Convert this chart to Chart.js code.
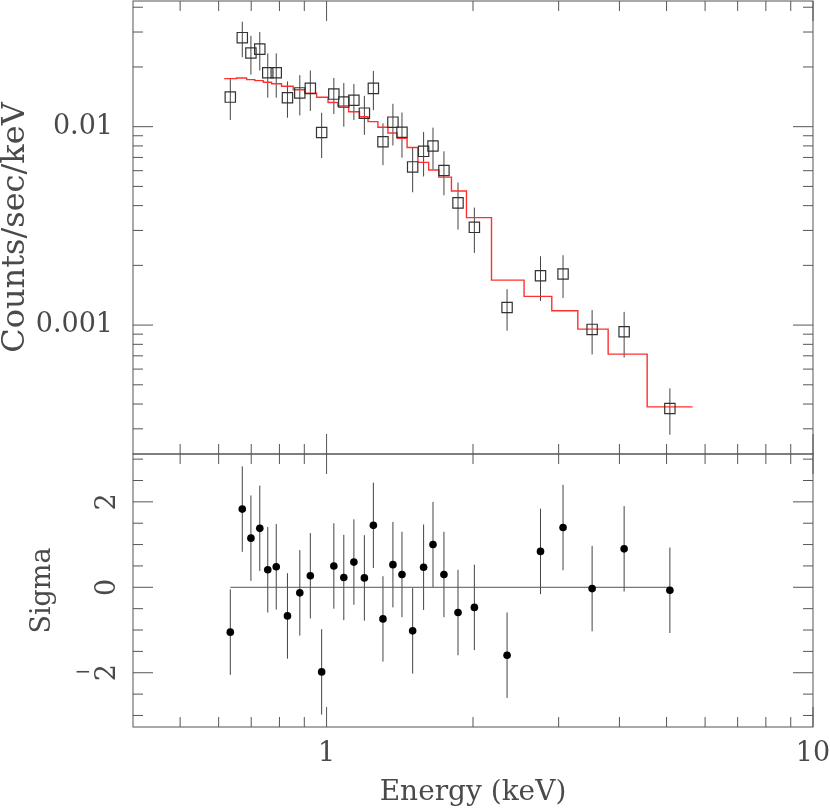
<!DOCTYPE html>
<html>
<head>
<meta charset="utf-8">
<script src="https://cdn.jsdelivr.net/npm/chart.js@4"></script>
<style>
  html, body { margin: 0; padding: 0; background: #fff; }
  #wrap { position: relative; width: 830px; height: 810px; }
  #wrap canvas { position: absolute; left: 0; top: 0; }
</style>
</head>
<body>
<div id="wrap">
  <canvas id="spectrum" width="830" height="810"></canvas>
  <canvas id="residuals" width="830" height="810"></canvas>
</div>
<script>
// Datos (keV, cuentas/s/keV, sigma)
const energy = [0.634, 0.671, 0.699, 0.729, 0.757, 0.788, 0.831, 0.881, 0.926, 0.977,
                1.035, 1.085, 1.138, 1.196, 1.248, 1.306, 1.369, 1.429, 1.503, 1.583,
                1.655, 1.743, 1.863, 2.013, 2.350, 2.753, 3.063, 3.515, 4.090, 5.079];
const counts = [0.0141, 0.0281, 0.0235, 0.0246, 0.0187, 0.0187, 0.0140, 0.0148, 0.0156, 0.00935,
                0.0146, 0.0133, 0.0136, 0.0117, 0.0156, 0.00840, 0.01054, 0.00938, 0.00627, 0.00751,
                0.00799, 0.00601, 0.00413, 0.00311, 0.001227, 0.001773, 0.00181, 0.000951, 0.000926, 0.00038];
const countsErr = [0.0033, 0.0057, 0.0052, 0.0054, 0.0047, 0.0047, 0.0029, 0.0034, 0.0036, 0.0024,
                   0.0030, 0.0033, 0.0028, 0.0026, 0.0035, 0.0020, 0.0025, 0.0024, 0.0016, 0.0019,
                   0.0019, 0.0015, 0.0011, 0.0008, 0.00029, 0.00045, 0.00044, 0.00024, 0.00024, 0.0001];
// bordes de los canales del modelo (31) y valor del modelo en cada canal (30)
const binEdges = [0.616, 0.653, 0.685, 0.712, 0.741, 0.771, 0.808, 0.854, 0.902, 0.954,
                  1.007, 1.055, 1.110, 1.169, 1.217, 1.275, 1.337, 1.397, 1.464, 1.541,
                  1.621, 1.702, 1.806, 1.939, 2.183, 2.547, 2.904, 3.285, 3.792, 4.561, 5.655];
const model = [0.01747, 0.01760, 0.01726, 0.01706, 0.01675, 0.01647, 0.01598, 0.01536, 0.01474, 0.01407,
               0.01324, 0.01272, 0.01190, 0.01123, 0.01060, 0.00993, 0.00929, 0.00875, 0.00785, 0.00661,
               0.00605, 0.00557, 0.00474, 0.00348, 0.001686, 0.001395, 0.001180, 0.000954, 0.000714, 0.000387];
const sigma = [-1.05, 1.83, 1.15, 1.38, 0.41, 0.48, -0.67, -0.13, 0.27, -1.98,
               0.50, 0.23, 0.59, 0.22, 1.45, -0.74, 0.53, 0.30, -1.02, 0.47,
               1.00, 0.30, -0.59, -0.47, -1.59, 0.84, 1.40, -0.03, 0.90, -0.07];
const sigmaErr = 1;

// ejes y marcas
const xMajor = [1, 10];
const xMinor = [0.5, 0.6, 0.7, 0.8, 0.9, 2, 3, 4, 5, 6, 7, 8, 9];
const xLabels = ['1', '10'];
const countsMajor = [0.001, 0.01];
const countsMinor = [3e-4, 4e-4, 5e-4, 6e-4, 7e-4, 8e-4, 9e-4,
                     0.002, 0.003, 0.004, 0.005, 0.006, 0.007, 0.008, 0.009, 0.02, 0.03, 0.04];
const countsLabels = ['0.001', '0.01'];
const sigmaMajor = [-2, 0, 2];
const sigmaMinor = [-3, -2.5, -1.5, -1, -0.5, 0.5, 1, 1.5, 2.5, 3];
const sigmaLabels = ['−2', '0', '2'];

const SERIF = '"DejaVu Serif", "Liberation Serif", serif';
const TEXT = '#4a4a4a';
const FRAME = '#555';

// Marco con marcas hacia dentro en los cuatro lados (estilo PGPLOT)
const frameTicks = {
    id: 'frameTicks',
    afterDatasetsDraw(chart, args, opts) {
        const { ctx, chartArea: a, scales: { x, y } } = chart;
        ctx.save();
        ctx.strokeStyle = FRAME;
        ctx.lineWidth = 1;
        ctx.strokeRect(a.left, a.top, a.right - a.left, a.bottom - a.top);
        ctx.beginPath();
        const onX = (vals, len) => vals.forEach(v => {
            const px = x.getPixelForValue(v);
            ctx.moveTo(px, a.top); ctx.lineTo(px, a.top + len);
            ctx.moveTo(px, a.bottom); ctx.lineTo(px, a.bottom - len);
        });
        const onY = (vals, len) => vals.forEach(v => {
            const py = y.getPixelForValue(v);
            ctx.moveTo(a.left, py); ctx.lineTo(a.left + len, py);
            ctx.moveTo(a.right, py); ctx.lineTo(a.right - len, py);
        });
        onX(opts.xMajor, 20);
        onX(opts.xMinor, 10);
        onY(opts.yMajor, 20);
        onY(opts.yMinor, 10);
        ctx.stroke();
        ctx.restore();
    }
};

// Barras de error verticales
const errorBars = {
    id: 'errorBars',
    beforeDatasetsDraw(chart) {
        const { ctx, scales: { x, y } } = chart;
        ctx.save();
        ctx.strokeStyle = '#444';
        ctx.lineWidth = 1;
        chart.data.datasets.forEach(ds => {
            if (ds.errors === undefined) return;
            ds.data.forEach((p, i) => {
                const e = Array.isArray(ds.errors) ? ds.errors[i] : ds.errors;
                const px = x.getPixelForValue(p.x);
                ctx.beginPath();
                ctx.moveTo(px, y.getPixelForValue(p.y - e));
                ctx.lineTo(px, y.getPixelForValue(p.y + e));
                ctx.stroke();
            });
        });
        ctx.restore();
    }
};

// Etiquetas giradas del eje sigma
const rotatedTicks = {
    id: 'rotatedTicks',
    afterDraw(chart) {
        const { ctx, scales: { y } } = chart;
        ctx.save();
        ctx.fillStyle = TEXT;
        ctx.font = '27px ' + SERIF;
        ctx.textAlign = 'center';
        ctx.textBaseline = 'middle';
        sigmaMajor.forEach((v, i) => {
            const py = y.getPixelForValue(v);
            let txt = sigmaLabels[i];
            if (txt.startsWith('−')) {
                ctx.save();
                ctx.font = '20px ' + SERIF;
                ctx.fillText('−', 83, py);  // el signo queda horizontal
                ctx.restore();
                txt = txt.slice(1);
            }
            ctx.save();
            ctx.translate(108, py);
            ctx.rotate(-Math.PI / 2);
            ctx.fillText(txt, 0, 0);
            ctx.restore();
        });
        ctx.restore();
    }
};

const noGrid = { display: false, drawTicks: false };

new Chart(document.getElementById('spectrum'), {
    type: 'scatter',
    data: {
        datasets: [
            {
                label: 'datos',
                data: energy.map((e, i) => ({ x: e, y: counts[i] })),
                errors: countsErr,
                pointStyle: 'rect',
                pointRadius: 7.3,
                pointBorderColor: '#333',
                pointBackgroundColor: 'rgba(0,0,0,0)',
                pointBorderWidth: 1.2,
            },
            {
                label: 'modelo',
                type: 'line',
                // cada canal va de su borde inferior al superior; el ultimo borde repite el ultimo valor
                data: binEdges.map((e, i) => ({ x: e, y: model[Math.min(i, model.length - 1)] })),
                stepped: 'before',
                borderColor: '#ff3030',
                borderWidth: 1.4,
                pointRadius: 0,
                fill: false,
            },
        ],
    },
    options: {
        responsive: false,
        animation: false,
        layout: { autoPadding: false, padding: { top: 1, right: 17, bottom: 356, left: 0 } },
        plugins: {
            legend: { display: false },
            tooltip: { enabled: false },
            frameTicks: { xMajor: xMajor, xMinor: xMinor, yMajor: countsMajor, yMinor: countsMinor },
        },
        scales: {
            x: { type: 'logarithmic', min: 0.4, max: 10, bounds: 'data', display: false },
            y: {
                type: 'logarithmic',
                min: 2.24e-4,
                max: 0.0430,
                bounds: 'data',
                afterBuildTicks: s => { s.ticks = countsMajor.map(v => ({ value: v })); },
                afterFit: s => { s.width = 133; s.paddingTop = 0; s.paddingBottom = 0; },
                grid: noGrid,
                border: { display: false },
                ticks: {
                    padding: 20,
                    autoSkip: false,
                    color: TEXT,
                    font: { family: SERIF, size: 27 },
                    callback: v => countsLabels[countsMajor.indexOf(v)] ?? '',
                },
                title: {
                    display: true,
                    text: 'Counts/sec/keV',
                    color: TEXT,
                    font: { family: SERIF, size: 32, lineHeight: 1 },
                    padding: 0,
                },
            },
        },
    },
    plugins: [errorBars, frameTicks],
});

new Chart(document.getElementById('residuals'), {
    type: 'scatter',
    data: {
        datasets: [
            {
                label: 'sigma',
                data: energy.map((e, i) => ({ x: e, y: sigma[i] })),
                errors: sigmaErr,
                pointStyle: 'circle',
                pointRadius: 3.8,
                pointBorderWidth: 0,
                pointBackgroundColor: '#000',
            },
            {
                label: 'cero',
                type: 'line',
                data: [{ x: energy[0], y: 0 }, { x: energy[energy.length - 1], y: 0 }],
                borderColor: '#555',
                borderWidth: 1,
                pointRadius: 0,
                fill: false,
            },
        ],
    },
    options: {
        responsive: false,
        animation: false,
        layout: { autoPadding: false, padding: { top: 454, right: 17, bottom: 0, left: 0 } },
        plugins: {
            legend: { display: false },
            tooltip: { enabled: false },
            frameTicks: { xMajor: xMajor, xMinor: xMinor, yMajor: sigmaMajor, yMinor: sigmaMinor },
        },
        scales: {
            x: {
                type: 'logarithmic',
                min: 0.4,
                max: 10,
                bounds: 'data',
                afterBuildTicks: s => { s.ticks = xMajor.map(v => ({ value: v })); },
                afterFit: s => { s.height = 83; s.paddingLeft = 0; s.paddingRight = 0; },
                grid: noGrid,
                border: { display: false },
                ticks: {
                    padding: 11,
                    autoSkip: false,
                    maxRotation: 0,
                    color: TEXT,
                    font: { family: SERIF, size: 27 },
                    callback: v => xLabels[xMajor.indexOf(v)] ?? '',
                },
                title: {
                    display: true,
                    text: 'Energy (keV)',
                    color: TEXT,
                    font: { family: SERIF, size: 28, lineHeight: 1 },
                    padding: { top: 0, bottom: 3 },
                },
            },
            y: {
                type: 'linear',
                min: -3.27,
                max: 3.12,
                bounds: 'data',
                afterFit: s => { s.width = 133; s.paddingTop = 0; s.paddingBottom = 0; },
                grid: noGrid,
                border: { display: false },
                ticks: { display: false },
                title: {
                    display: true,
                    text: 'Sigma',
                    color: TEXT,
                    font: { family: SERIF, size: 27, lineHeight: 1 },
                    padding: { top: 29, bottom: 0 },
                },
            },
        },
    },
    plugins: [errorBars, frameTicks, rotatedTicks],
});
</script>
</body>
</html>
